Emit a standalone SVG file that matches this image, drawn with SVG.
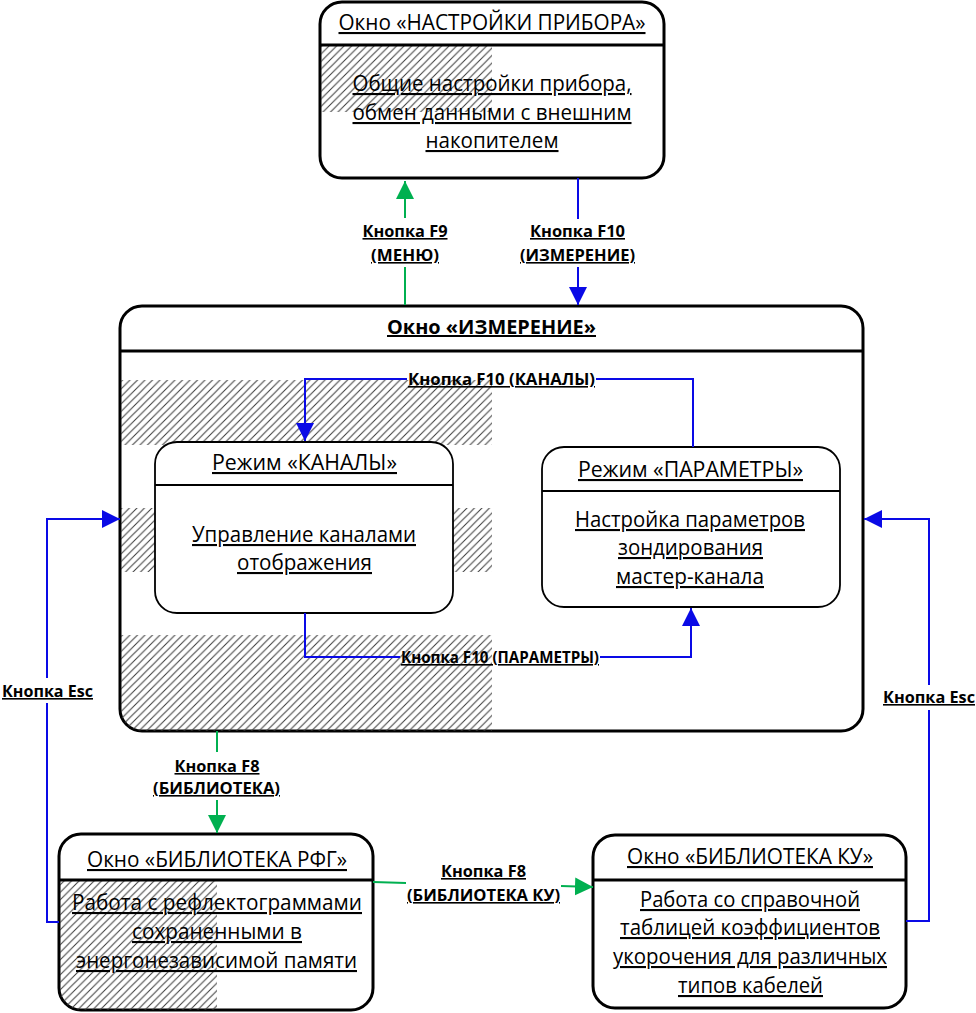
<svg xmlns="http://www.w3.org/2000/svg" width="976" height="1013" viewBox="0 0 976 1013">
<defs>
<style>
.t{font-family:"Open Sans","Noto Sans","Liberation Sans",sans-serif;font-size:21px;fill:#000;text-anchor:middle;text-decoration:underline}
.tb{font-family:"Open Sans","Noto Sans","Liberation Sans",sans-serif;font-size:20px;font-weight:bold;fill:#000;text-anchor:middle;text-decoration:underline}
.lb{font-family:"Open Sans","Noto Sans","Liberation Sans",sans-serif;font-size:16px;font-weight:bold;fill:#000;text-anchor:middle;text-decoration:underline}
.outer{fill:#fff;stroke:#000;stroke-width:3}
.inner{fill:#fff;stroke:#000;stroke-width:1.8}
.div3{stroke:#000;stroke-width:3}
.div2{stroke:#000;stroke-width:1.8}
.blue{fill:none;stroke:#0a0ae6;stroke-width:2}
.green{fill:none;stroke:#00b050;stroke-width:2}
</style>
<pattern id="hatch" patternUnits="userSpaceOnUse" width="7.5" height="7.5">
<path d="M-1,1 L1,-1 M0,7.5 L7.5,0 M6.5,8.5 L8.5,6.5" stroke="#3a3a3a" stroke-width="1"/>
</pattern>
<marker id="ab" markerUnits="userSpaceOnUse" markerWidth="20" markerHeight="20" refX="18" refY="9" orient="auto">
<path d="M0,0 L18,9 L0,18 z" fill="#0a0ae6"/>
</marker>
<marker id="ag" markerUnits="userSpaceOnUse" markerWidth="20" markerHeight="20" refX="18" refY="9" orient="auto">
<path d="M0,0 L18,9 L0,18 z" fill="#00b050"/>
</marker>
<clipPath id="cTop"><rect x="320" y="2" width="344" height="176" rx="22"/></clipPath>
<clipPath id="cMeas"><rect x="120" y="306" width="743" height="425" rx="22"/></clipPath>
<clipPath id="cRfg"><rect x="59" y="834" width="314" height="176" rx="22"/></clipPath>
</defs>

<g id="node-settings">
<rect class="outer" x="320" y="2" width="344" height="176" rx="22"/>
<rect x="321" y="46" width="171" height="66" fill="url(#hatch)" clip-path="url(#cTop)"/>
<line class="div3" x1="320" y1="45" x2="664" y2="45"/>
<text class="t" x="492" y="30" textLength="307" lengthAdjust="spacingAndGlyphs">Окно «НАСТРОЙКИ ПРИБОРА»</text>
<text class="t" x="492" y="91" textLength="279" lengthAdjust="spacingAndGlyphs">Общие настройки прибора,</text>
<text class="t" x="492" y="120" textLength="279" lengthAdjust="spacingAndGlyphs">обмен данными с внешним</text>
<text class="t" x="492" y="148" textLength="133" lengthAdjust="spacingAndGlyphs">накопителем</text>
</g>

<g id="node-measure">
<rect class="outer" x="120" y="306" width="743" height="425" rx="22"/>
<g clip-path="url(#cMeas)">
<rect x="121" y="380" width="371" height="65" fill="url(#hatch)"/>
<rect x="121" y="508" width="371" height="64" fill="url(#hatch)"/>
<rect x="121" y="635" width="371" height="96" fill="url(#hatch)"/>
</g>
<line class="div3" x1="120" y1="351" x2="863" y2="351"/>
<text class="tb" x="491.5" y="334" textLength="209" lengthAdjust="spacingAndGlyphs">Окно «ИЗМЕРЕНИЕ»</text>
</g>

<g id="node-channels">
<rect class="inner" x="155" y="442" width="298" height="171" rx="22"/>
<line class="div2" x1="155" y1="485" x2="453" y2="485"/>
<text class="t" x="304.5" y="470" textLength="185" lengthAdjust="spacingAndGlyphs">Режим «КАНАЛЫ»</text>
<text class="t" x="304" y="542" textLength="224" lengthAdjust="spacingAndGlyphs">Управление каналами</text>
<text class="t" x="304.5" y="570" textLength="135" lengthAdjust="spacingAndGlyphs">отображения</text>
</g>

<g id="node-params">
<rect class="inner" x="542" y="447" width="298" height="160" rx="22"/>
<line class="div2" x1="542" y1="491" x2="840" y2="491"/>
<text class="t" x="690.5" y="477" textLength="225" lengthAdjust="spacingAndGlyphs">Режим «ПАРАМЕТРЫ»</text>
<text class="t" x="690" y="527" textLength="230" lengthAdjust="spacingAndGlyphs">Настройка параметров</text>
<text class="t" x="690.5" y="555" textLength="145" lengthAdjust="spacingAndGlyphs">зондирования</text>
<text class="t" x="690" y="584" textLength="148" lengthAdjust="spacingAndGlyphs">мастер-канала</text>
</g>

<g id="node-rfg">
<rect class="outer" x="59" y="834" width="314" height="176" rx="22"/>
<rect x="60" y="880" width="157" height="130" fill="url(#hatch)" clip-path="url(#cRfg)"/>
<line class="div3" x1="59" y1="880" x2="373" y2="880"/>
<text class="t" x="217" y="867" textLength="260" lengthAdjust="spacingAndGlyphs">Окно «БИБЛИОТЕКА РФГ»</text>
<text class="t" x="217" y="910" textLength="290" lengthAdjust="spacingAndGlyphs">Работа с рефлектограммами</text>
<text class="t" x="217" y="939" textLength="170" lengthAdjust="spacingAndGlyphs">сохраненными в</text>
<text class="t" x="216.5" y="968" textLength="281" lengthAdjust="spacingAndGlyphs">энергонезависимой памяти</text>
</g>

<g id="node-ku">
<rect class="outer" x="593" y="835" width="313" height="173" rx="22"/>
<line class="div3" x1="593" y1="880" x2="906" y2="880"/>
<text class="t" x="750" y="864" textLength="246" lengthAdjust="spacingAndGlyphs">Окно «БИБЛИОТЕКА КУ»</text>
<text class="t" x="750" y="907" textLength="220" lengthAdjust="spacingAndGlyphs">Работа со справочной</text>
<text class="t" x="750" y="935" textLength="260" lengthAdjust="spacingAndGlyphs">таблицей коэффициентов</text>
<text class="t" x="750" y="964" textLength="274" lengthAdjust="spacingAndGlyphs">укорочения для различных</text>
<text class="t" x="750.5" y="993" textLength="145" lengthAdjust="spacingAndGlyphs">типов кабелей</text>
</g>

<g id="connectors">
<line class="green" x1="405" y1="305" x2="405" y2="267"/>
<path class="green" d="M405,218 V181" marker-end="url(#ag)"/>
<text class="lb" x="405" y="237" textLength="85" lengthAdjust="spacingAndGlyphs">Кнопка F9</text>
<text class="lb" x="405" y="261" textLength="68" lengthAdjust="spacingAndGlyphs">(МЕНЮ)</text>
<line class="blue" x1="578" y1="178" x2="578" y2="219"/>
<path class="blue" d="M578,267 V305" marker-end="url(#ab)"/>
<text class="lb" x="577.5" y="237" textLength="95" lengthAdjust="spacingAndGlyphs">Кнопка F10</text>
<text class="lb" x="577.5" y="261" textLength="115" lengthAdjust="spacingAndGlyphs">(ИЗМЕРЕНИЕ)</text>
<path class="blue" d="M693,447 V379 H596"/>
<path class="blue" d="M407,379 H305 V441" marker-end="url(#ab)"/>
<text class="lb" x="501.5" y="385" textLength="187" lengthAdjust="spacingAndGlyphs">Кнопка F10 (КАНАЛЫ)</text>
<path class="blue" d="M305,613 V657 H400"/>
<path class="blue" d="M600,657 H691 V608" marker-end="url(#ab)"/>
<text class="lb" x="500" y="663" textLength="198" lengthAdjust="spacingAndGlyphs">Кнопка F10 (ПАРАМЕТРЫ)</text>
<line class="green" x1="217" y1="731" x2="217" y2="752"/>
<path class="green" d="M217,800 V833" marker-end="url(#ag)"/>
<text class="lb" x="217" y="772" textLength="85" lengthAdjust="spacingAndGlyphs">Кнопка F8</text>
<text class="lb" x="216.5" y="794" textLength="127" lengthAdjust="spacingAndGlyphs">(БИБЛИОТЕКА)</text>
<line class="green" x1="373" y1="882" x2="406" y2="883"/>
<path class="green" d="M561,886 L593,887" marker-end="url(#ag)"/>
<text class="lb" x="483.5" y="877" textLength="85" lengthAdjust="spacingAndGlyphs">Кнопка F8</text>
<text class="lb" x="483.5" y="901" textLength="153" lengthAdjust="spacingAndGlyphs">(БИБЛИОТЕКА КУ)</text>
<path class="blue" d="M59,922 H47 V703"/>
<path class="blue" d="M47,678 V519 H120" marker-end="url(#ab)"/>
<text class="lb" x="47.5" y="697" textLength="91" lengthAdjust="spacingAndGlyphs">Кнопка Esc</text>
<path class="blue" d="M906,921 H929 V710"/>
<path class="blue" d="M929,685 V519 H864" marker-end="url(#ab)"/>
<text class="lb" x="929" y="703" textLength="92" lengthAdjust="spacingAndGlyphs">Кнопка Esc</text>
</g>
</svg>
